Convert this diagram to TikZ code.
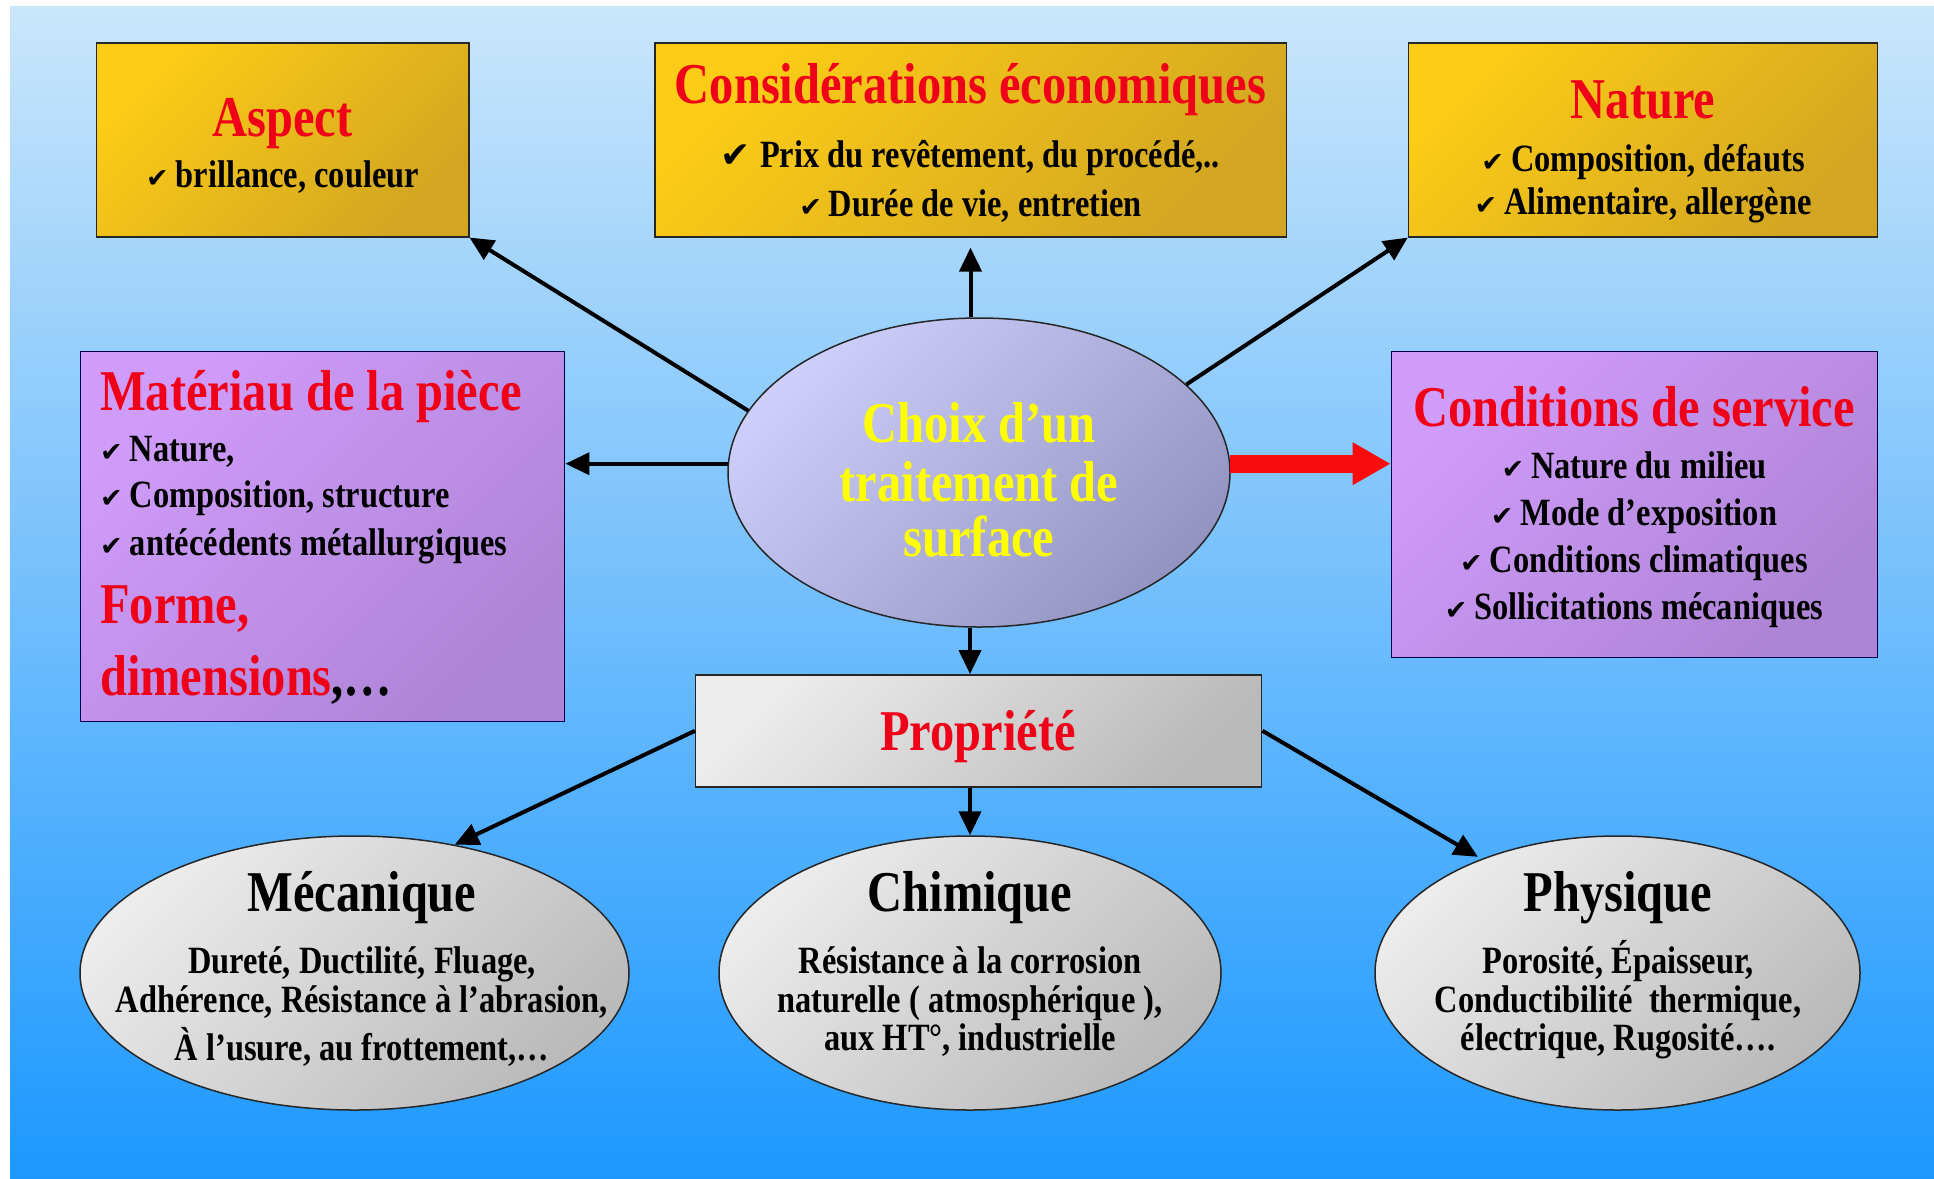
\documentclass[tikz,border=0pt]{standalone}
\usepackage{fontspec}
\setmainfont{Liberation Serif}
\newfontfamily\tnr[FakeStretch=0.84]{Liberation Serif}
\newfontfamily\symf{DejaVu Sans}
\usetikzlibrary{shapes.geometric,arrows.meta}
\definecolor{bgtop}{RGB}{202,230,250}
\definecolor{bgbot}{RGB}{28,152,255}
\definecolor{goldA}{RGB}{252,204,22}
\definecolor{goldB}{RGB}{210,166,34}
\definecolor{purA}{RGB}{208,156,250}
\definecolor{purB}{RGB}{174,132,214}
\definecolor{lavA}{RGB}{206,206,250}
\definecolor{lavB}{RGB}{148,148,194}
\definecolor{gryA}{RGB}{236,236,236}
\definecolor{gryB}{RGB}{186,186,186}
\definecolor{txtred}{RGB}{240,0,24}
\definecolor{txtyel}{RGB}{255,255,0}
\definecolor{arrred}{RGB}{250,12,12}
\newcommand{\ck}{{\symf\fontsize{27}{27}\selectfont ✔}\hspace{7pt}}
\newcommand{\bigck}{{\symf\fontsize{36}{36}\selectfont ✔}\hspace{9pt}}
\begin{document}
\begin{tikzpicture}[x=1pt,y=-1pt,
  goldbox/.style={draw=black!85,line width=1.5pt,top color=goldA,bottom color=goldB,shading angle=45,inner sep=0pt,minimum height=193.6pt},
  purbox/.style={draw=black!70!blue,line width=1.2pt,top color=purA,bottom color=purB,shading angle=45,inner sep=0pt},
  grybox/.style={draw=black!85,line width=1.5pt,top color=gryA,bottom color=gryB,shading angle=45,inner sep=0pt},
  grell/.style={ellipse,draw=black!85,line width=1.5pt,top color=gryA,bottom color=gryB,shading angle=45,inner sep=0pt,minimum height=274pt},
  ttl/.style={font=\tnr\bfseries\fontsize{57.7}{60}\selectfont,text=txtred,inner sep=0pt,anchor=base},
  bdy/.style={font=\tnr\bfseries\fontsize{38.6}{40}\selectfont,text=black,inner sep=0pt,anchor=base},
  arr/.style={line width=4pt,draw=black,-{Triangle[length=24pt,width=22pt]}},
  redarr/.style={line width=18pt,draw=arrred,-{Triangle[length=38pt,width=40pt]}}
]
\useasboundingbox (0,0) rectangle (1934,1178);
\fill[white] (0,0) rectangle (1934,1178);
\shade[top color=bgtop,bottom color=bgbot] (10,6) rectangle (1934,1178);

% top boxes
\node[goldbox,minimum width=372.5pt] (aspect) at (282.5,140) {};
\node[ttl] (aspectT) at (282.5,136) {Aspect};
\node[bdy] (aspect1) at (282.5,187) {\ck brillance, couleur};

\node[goldbox,minimum width=631.5pt] (econ) at (970.5,140) {};
\node[ttl] (econT) at (970.5,103) {Considérations économiques};
\node[bdy] (econ1) at (970.5,167) {\bigck Prix du revêtement, du procédé,..};
\node[bdy] (econ2) at (970.5,216) {\ck Durée de vie, entretien};

\node[goldbox,minimum width=468.7pt] (nat) at (1642.9,140) {};
\node[ttl] (natT) at (1643,118) {Nature};
\node[bdy] (nat1) at (1643,171) {\ck Composition, défauts};
\node[bdy] (nat2) at (1643,214) {\ck Alimentaire, allergène};

% side boxes
\node[purbox,minimum width=484.7pt,minimum height=370pt] (mat) at (322.5,536.5) {};
\node[ttl,anchor=base west] (matT) at (100,410) {Matériau de la pièce};
\node[bdy,anchor=base west] (mat1) at (100,461) {\ck Nature,};
\node[bdy,anchor=base west] (mat2) at (100,507) {\ck Composition, structure};
\node[bdy,anchor=base west] (mat3) at (100,555) {\ck antécédents métallurgiques};
\node[ttl,anchor=base west] (mat4) at (100,623) {Forme,};
\node[ttl,anchor=base west] (mat5) at (100,695) {dimensions{\color{black},…}};

\node[purbox,minimum width=486pt,minimum height=306pt] (cond) at (1634.3,504.5) {};
\node[ttl] (condT) at (1634,426) {Conditions de service};
\node[bdy] (cond1) at (1634,478) {\ck Nature du milieu};
\node[bdy] (cond2) at (1634,525) {\ck Mode d’exposition};
\node[bdy] (cond3) at (1634,572) {\ck Conditions climatiques};
\node[bdy] (cond4) at (1634,619) {\ck Sollicitations mécaniques};

% central ellipse
\node[ellipse,draw=black!85,line width=1.5pt,top color=lavA,bottom color=lavB,shading angle=45,inner sep=0pt,minimum width=502pt,minimum height=309pt] (choix) at (979,472.5) {};
\node[ttl,text=txtyel] (choix1) at (979,442) {Choix d’un};
\node[ttl,text=txtyel] (choix2) at (979,501) {traitement de};
\node[ttl,text=txtyel] (choix3) at (979,556) {surface};

% propriete
\node[grybox,minimum width=566pt,minimum height=112pt] (prop) at (978.7,730.8) {};
\node[ttl] (propT) at (978,750) {Propriété};

% bottom ellipses
\node[grell,minimum width=549pt] (mec) at (354.5,973) {};
\node[ttl,text=black] (mecT) at (362,911) {Mécanique};
\node[bdy] (mec1) at (362,973) {Dureté, Ductilité, Fluage,};
\node[bdy] (mec2) at (362,1012) {Adhérence, Résistance à l’abrasion,};
\node[bdy] (mec3) at (362,1060) {À l’usure, au frottement,…};

\node[grell,minimum width=502pt] (chim) at (970,973) {};
\node[ttl,text=black] (chimT) at (970,911) {Chimique};
\node[bdy] (chim1) at (970,973) {Résistance à la corrosion};
\node[bdy] (chim2) at (970,1012) {naturelle ( atmosphérique ),};
\node[bdy] (chim3) at (970,1050) {aux HT°, industrielle};

\node[grell,minimum width=485pt] (phys) at (1617.5,973) {};
\node[ttl,text=black] (physT) at (1618,911) {Physique};
\node[bdy] (phys1) at (1618,973) {Porosité, Épaisseur,};
\node[bdy] (phys2) at (1618,1012) {Conductibilité~ thermique,};
\node[bdy] (phys3) at (1618,1050) {électrique, Rugosité….};

% connectors
\draw[arr] (choix.165) -- (aspect.south east);
\draw[arr,shorten >=10pt] (choix.north -| econ.south) -- (econ.south);
\draw[arr] (choix.23) -- (nat.south west);
\draw[arr] (choix.178) -- (choix.178 -| mat.east);
\draw[redarr] (choix.2) -- (choix.2 -| cond.west);
\draw[arr] (choix.south -| chim.north) -- (prop.north -| chim.north);
\draw[arr] (prop.west) -- (mec.52);
\draw[arr] (prop.south -| chim.north) -- (chim.north);
\draw[arr,shorten >=4pt] (prop.east) -- (phys.140);
\end{tikzpicture}
\end{document}
